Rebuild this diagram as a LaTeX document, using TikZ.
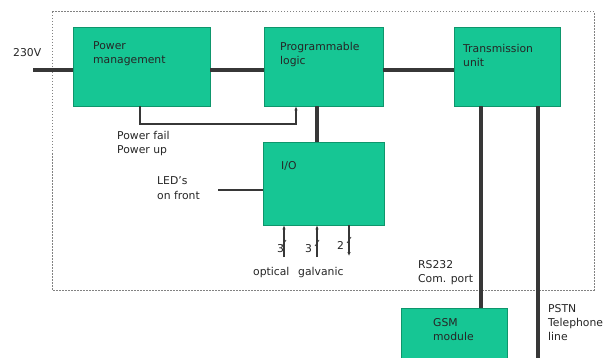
\documentclass[tikz,border=0pt]{standalone}
\usepackage{fontspec}
\setmainfont{DejaVu Sans}
\usetikzlibrary{arrows.meta}
\definecolor{boxgreen}{RGB}{22,198,148}
\definecolor{boxedge}{RGB}{14,150,108}
\definecolor{linegray}{RGB}{55,55,55}
\definecolor{framegray}{RGB}{130,130,130}
\begin{document}
\begin{tikzpicture}[x=1pt,y=-1pt,
  blk/.style={draw=boxedge, fill=boxgreen, line width=0.8pt, inner sep=0pt},
  txt/.style={font=\fontsize{10.8}{14}\selectfont, inner sep=0pt, anchor=base west, align=left, text=black!85},
  bus/.style={draw=linegray, line width=3.2pt},
  sig/.style={draw=linegray, line width=1.3pt},
  tip/.style={-{Latex[length=4pt,width=3.5pt]}}
]
\useasboundingbox (0,0) rectangle (615,358);
\clip (0,0) rectangle (615,358);
\fill[white] (0,0) rectangle (615,358);
% frame
\draw[framegray, line width=1pt, dash pattern=on 1.5pt off 1.5pt] (52,12) rectangle (594,290);
% blocks
\node[blk, minimum width=137pt, minimum height=79pt] (pm) at (141.5,66.5) {};
\node[blk, minimum width=119pt, minimum height=79pt] (pl) at (323.5,66.5) {};
\node[blk, minimum width=106pt, minimum height=79pt] (tu) at (507.5,66.5) {};
\node[blk, minimum width=121pt, minimum height=83pt] (io) at (323.5,183.5) {};
\node[blk, minimum width=106pt, minimum height=70pt] (gsm) at (454,343) {};
% texts (anchor = baseline of last line)
\node[txt] (t230) at (13,57) {230V};
\node[txt] (tpm) at (93,64) {Power\\management};
\node[txt] (tpl) at (280,65) {Programmable\\logic};
\node[txt] (ttu) at (463,67) {Transmission\\unit};
\node[txt] (tpf) at (117,154) {Power fail\\Power up};
\node[txt] (tled) at (157,199) {LED's\\on front};
\node[txt] (tio) at (281,169) {I/O};
\node[txt] (n3a) at (277,252) {3};
\node[txt] (n3b) at (305,252) {3};
\node[txt] (n2) at (337,249) {2};
\node[txt] (topt) at (253,275) {optical};
\node[txt] (tgal) at (298,275) {galvanic};
\node[txt] (trs) at (418,282) {RS232\\Com. port};
\node[txt] (tgsm) at (433,340) {GSM\\module};
\node[txt] (tpstn) at (548,340) {PSTN\\Telephone\\line};
% coordinates
\coordinate (y70) at (0,70);
\coordinate (in230) at (33,70);
\coordinate (pf1) at (140,124);
\coordinate (pf2) at (296,124);
\coordinate (x317) at (317,0);
\coordinate (led) at (218,190);
\coordinate (b1) at (284,257);
\coordinate (b2) at (317,257);
\coordinate (b3) at (349,256);
\coordinate (rs) at (481,0);
\coordinate (pstn) at (538,358);
% connectors
\draw[bus] (in230) -- (pm.west |- in230);
\draw[bus] (pm.east |- y70) -- (pl.west |- y70);
\draw[bus] (pl.east |- y70) -- (tu.west |- y70);
\draw[sig, tip] (pm.south -| pf1) -- (pf1) -- (pf2) -- (pl.south -| pf2);
\draw[bus] (pl.south -| x317) -- (io.north -| x317);
\draw[sig] (led) -- (io.west |- led);
\draw[sig, tip] (b1) -- (io.south -| b1);
\draw[sig, tip] (b2) -- (io.south -| b2);
\draw[sig, tip] (io.south -| b3) -- (b3);
\draw[line width=0.7pt, linegray] (282,246) -- (286,240);
\draw[line width=0.7pt, linegray] (315,246) -- (319,240);
\draw[line width=0.7pt, linegray] (347,243) -- (351,237);
\draw[bus] (tu.south -| rs) -- (gsm.north -| rs);
\draw[bus] (tu.south -| pstn) -- (pstn);
\end{tikzpicture}
\end{document}
